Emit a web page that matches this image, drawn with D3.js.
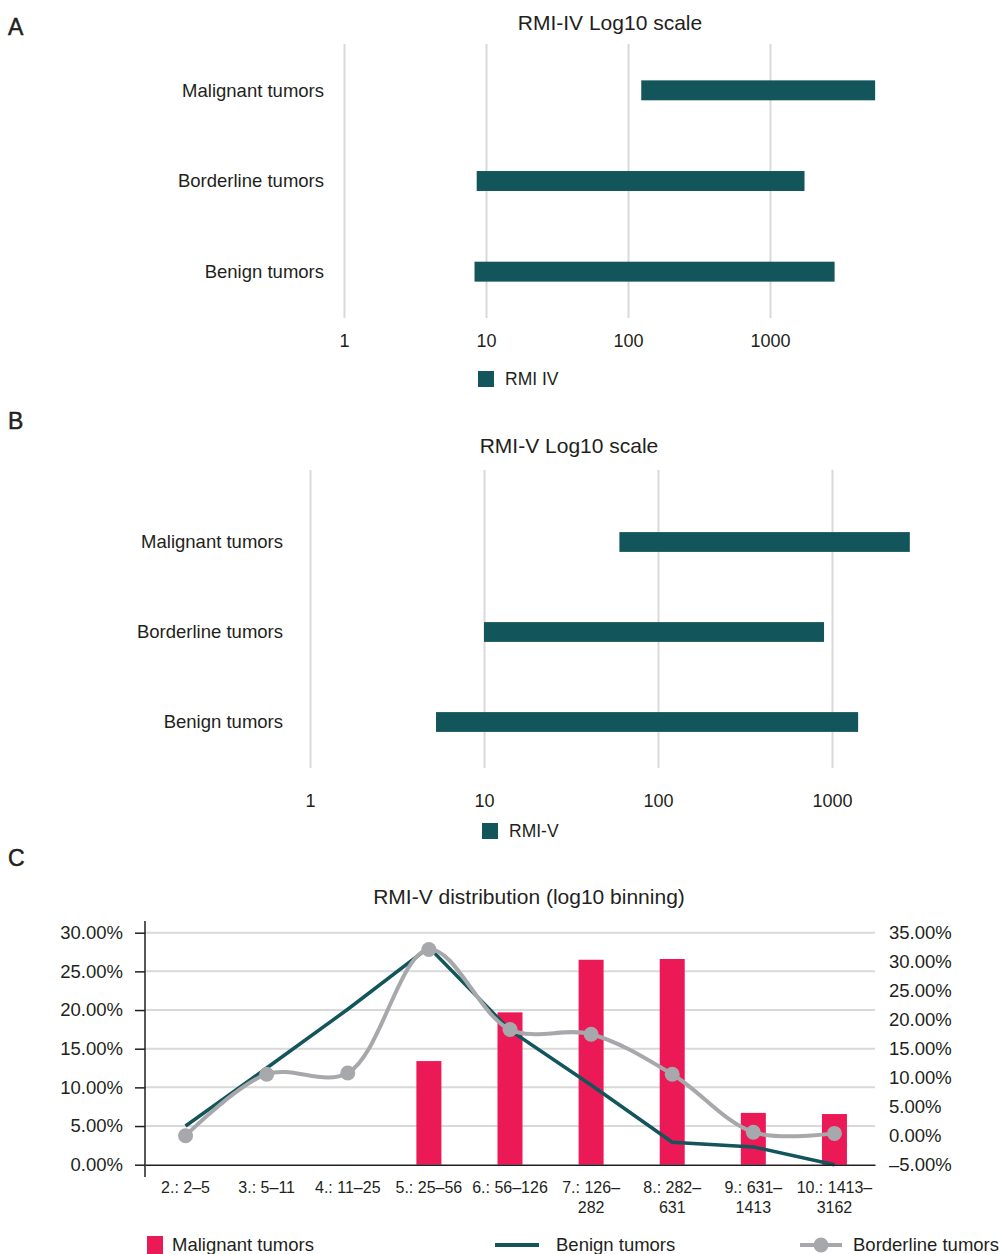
<!DOCTYPE html>
<html>
<head>
<meta charset="utf-8">
<script src="https://cdn.jsdelivr.net/npm/d3@7"></script>
<style>
  body { margin: 0; background: #fff; }
  svg text { font-family: "Liberation Sans", Arial, sans-serif; fill: #231f20; }
</style>
</head>
<body>
<div id="chart"></div>
<script>
// Data
const tumorTypes = ['Malignant tumors', 'Borderline tumors', 'Benign tumors'];
const rmi4Low = [124, 8.6, 8.3];
const rmi4High = [5500, 1750, 2850];
const rmi5Low = [60, 10, 5.3];
const rmi5High = [2800, 900, 1413];
const logTicks = [1, 10, 100, 1000];

const bins = ['2.: 2–5', '3.: 5–11', '4.: 11–25', '5.: 25–56', '6.: 56–126',
    '7.: 126–|282', '8.: 282–|631', '9.: 631–|1413', '10.: 1413–|3162'];
const malignantPct = [0, 0, 0, 13.4, 19.7, 26.5, 26.6, 6.7, 6.55];
const benignPct = [5.0, 12.5, 20.1, 28.1, 17.4, 10.3, 2.9, 2.3, 0];
const borderlinePct = [0, 10.6, 10.8, 32.1, 18.3, 17.5, 10.6, 0.6, 0.4];
const leftTicks = [0, 5, 10, 15, 20, 25, 30];
const rightTicks = [-5, 0, 5, 10, 15, 20, 25, 30, 35];

const teal = '#12555a';
const pink = '#ec1957';
const grey = '#a7a8ab';
const gridColor = '#d9d9d9';

const svg = d3.select('#chart')
    .append('svg')
    .attr('width', 1003)
    .attr('height', 1254);

function panelLetter(letter, y) {
    svg.append('text')
        .attr('x', 8).attr('y', y)
        .attr('dy', '0.35em')
        .style('font-size', '23px')
        .style('stroke', '#231f20')
        .style('stroke-width', 0.5)
        .text(letter);
}

// range panel (A and B)
function rangePanel(opt) {
    const x = d3.scaleLog()
        .domain([1, 10000])
        .range(opt.xRange);
    const y = d3.scaleBand()
        .domain(tumorTypes)
        .range(opt.yRange)
        .paddingInner(0.78)
        .paddingOuter(0.39);

    panelLetter(opt.letter, opt.letterY);

    svg.append('text')
        .attr('x', opt.titleX).attr('y', opt.titleY)
        .attr('dy', '0.35em')
        .attr('text-anchor', 'middle')
        .style('font-size', '21px')
        .text(opt.title);

    const gridBottom = opt.gridY[1];
    const axis = d3.axisBottom(x)
        .tickValues(logTicks)
        .tickFormat(d3.format('d'))
        .tickSize(-(opt.gridY[1] - opt.gridY[0]))
        .tickPadding(opt.labelY - gridBottom - 6);

    const g = svg.append('g')
        .attr('transform', 'translate(0,' + gridBottom + ')')
        .call(axis);
    g.select('.domain').remove();
    g.selectAll('line').attr('stroke', gridColor).attr('stroke-width', 2);
    g.selectAll('text')
        .style('font-size', '18px')
        .attr('fill', '#231f20');

    svg.append('g')
        .selectAll('rect')
        .data(tumorTypes)
        .join('rect')
        .attr('x', (d, i) => x(opt.low[i]))
        .attr('width', (d, i) => x(opt.high[i]) - x(opt.low[i]))
        .attr('y', d => y(d))
        .attr('height', y.bandwidth())
        .attr('fill', teal);

    svg.append('g')
        .selectAll('text')
        .data(tumorTypes)
        .join('text')
        .attr('x', opt.catX)
        .attr('y', d => y(d) + y.bandwidth() / 2)
        .attr('dy', '0.35em')
        .attr('text-anchor', 'end')
        .style('font-size', '18.5px')
        .text(d => d);

    svg.append('rect')
        .attr('x', opt.legendX).attr('y', opt.legendY - 8)
        .attr('width', 16).attr('height', 16)
        .attr('fill', teal);
    svg.append('text')
        .attr('x', opt.legendX + 27).attr('y', opt.legendY)
        .attr('dy', '0.35em')
        .style('font-size', '17.5px')
        .text(opt.legend);
}

rangePanel({
    letter: 'A', letterY: 27,
    title: 'RMI-IV Log10 scale', titleX: 610, titleY: 23,
    xRange: [344, 912], yRange: [45, 317],
    gridY: [44, 318], labelY: 340,
    low: rmi4Low, high: rmi4High,
    catX: 324,
    legend: 'RMI IV', legendX: 478, legendY: 379
});

rangePanel({
    letter: 'B', letterY: 421,
    title: 'RMI-V Log10 scale', titleX: 569, titleY: 446,
    xRange: [310, 1006], yRange: [497, 767],
    gridY: [470, 768], labelY: 800,
    low: rmi5Low, high: rmi5High,
    catX: 283,
    legend: 'RMI-V', legendX: 482, legendY: 831
});

// panel C: distribution
const cLeft = 145, cRight = 875, cTop = 932.7, cBottom = 1164.7;

const xBin = d3.scaleBand()
    .domain(bins)
    .range([cLeft, cRight]);
const yLeft = d3.scaleLinear()
    .domain([0, 30])
    .range([cBottom, cTop]);
const yRight = d3.scaleLinear()
    .domain([-5, 35])
    .range([cBottom, cTop]);

const pct = d => d.toFixed(2).replace('-', '–') + '%';

panelLetter('C', 858);

svg.append('text')
    .attr('x', 529).attr('y', 897)
    .attr('dy', '0.35em')
    .attr('text-anchor', 'middle')
    .style('font-size', '21px')
    .text('RMI-V distribution (log10 binning)');

// grid
svg.append('g')
    .selectAll('line')
    .data(leftTicks.filter(d => d > 0))
    .join('line')
    .attr('x1', cLeft).attr('x2', cRight)
    .attr('y1', d => yLeft(d)).attr('y2', d => yLeft(d))
    .attr('stroke', gridColor)
    .attr('stroke-width', 2);

// malignant bars
const barW = 25;
svg.append('g')
    .selectAll('rect')
    .data(bins)
    .join('rect')
    .attr('x', d => xBin(d) + xBin.bandwidth() / 2 - barW / 2)
    .attr('width', barW)
    .attr('y', (d, i) => yLeft(malignantPct[i]))
    .attr('height', (d, i) => cBottom - yLeft(malignantPct[i]))
    .attr('fill', pink);

// benign line
const benignLine = d3.line()
    .x((d, i) => xBin(bins[i]) + xBin.bandwidth() / 2)
    .y(d => yLeft(d));

svg.append('path')
    .datum(benignPct)
    .attr('fill', 'none')
    .attr('stroke', teal)
    .attr('stroke-width', 3.5)
    .attr('d', benignLine);

// borderline line (smoothed, right axis)
const borderLine = d3.line()
    .x((d, i) => xBin(bins[i]) + xBin.bandwidth() / 2)
    .y(d => yRight(d))
    .curve(d3.curveCatmullRom.alpha(0.5));

svg.append('path')
    .datum(borderlinePct)
    .attr('fill', 'none')
    .attr('stroke', grey)
    .attr('stroke-width', 4)
    .attr('d', borderLine);

svg.append('g')
    .selectAll('circle')
    .data(borderlinePct)
    .join('circle')
    .attr('cx', (d, i) => xBin(bins[i]) + xBin.bandwidth() / 2)
    .attr('cy', d => yRight(d))
    .attr('r', 7.5)
    .attr('fill', grey);

// axes
const leftAxis = d3.axisLeft(yLeft)
    .tickValues(leftTicks)
    .tickFormat(pct)
    .tickSize(10)
    .tickPadding(12)
    .tickSizeOuter(0);
const gl = svg.append('g')
    .attr('transform', 'translate(' + cLeft + ',0)')
    .call(leftAxis);
gl.select('.domain').remove();
gl.selectAll('line').attr('stroke', '#231f20').attr('stroke-width', 1.5);
gl.selectAll('text').style('font-size', '18.5px').attr('fill', '#231f20');

svg.append('line')
    .attr('x1', cLeft).attr('x2', cLeft)
    .attr('y1', 921).attr('y2', 1177)
    .attr('stroke', '#231f20')
    .attr('stroke-width', 1.5);

const rightAxis = d3.axisRight(yRight)
    .tickValues(rightTicks)
    .tickFormat(pct)
    .tickSize(0)
    .tickPadding(14);
const gr = svg.append('g')
    .attr('transform', 'translate(' + cRight + ',0)')
    .call(rightAxis);
gr.select('.domain').remove();
gr.selectAll('text').style('font-size', '18.5px').attr('fill', '#231f20');

const bottomAxis = d3.axisBottom(xBin)
    .tickSize(0)
    .tickSizeOuter(0)
    .tickPadding(23);
const gb = svg.append('g')
    .attr('transform', 'translate(0,' + cBottom + ')')
    .call(bottomAxis);
gb.select('.domain').attr('stroke', '#231f20').attr('stroke-width', 1.5);
gb.selectAll('text')
    .style('font-size', '16px')
    .attr('fill', '#231f20')
    .attr('dy', null)
    .text(null)
    .selectAll('tspan')
    .data(d => d.split('|'))
    .join('tspan')
    .attr('x', 0)
    .attr('dy', (d, i) => i === 0 ? '0.35em' : '1.25em')
    .text(d => d);

// legend
const legendY = 1245;
svg.append('rect')
    .attr('x', 147).attr('y', legendY - 9)
    .attr('width', 16).attr('height', 18)
    .attr('fill', pink);
svg.append('text')
    .attr('x', 172).attr('y', legendY)
    .attr('dy', '0.35em')
    .style('font-size', '18.5px')
    .text('Malignant tumors');

svg.append('line')
    .attr('x1', 495).attr('x2', 539)
    .attr('y1', legendY).attr('y2', legendY)
    .attr('stroke', teal)
    .attr('stroke-width', 4);
svg.append('text')
    .attr('x', 556).attr('y', legendY)
    .attr('dy', '0.35em')
    .style('font-size', '18.5px')
    .text('Benign tumors');

svg.append('line')
    .attr('x1', 800).attr('x2', 842)
    .attr('y1', legendY).attr('y2', legendY)
    .attr('stroke', grey)
    .attr('stroke-width', 4);
svg.append('circle')
    .attr('cx', 821).attr('cy', legendY)
    .attr('r', 7.5)
    .attr('fill', grey);
svg.append('text')
    .attr('x', 853).attr('y', legendY)
    .attr('dy', '0.35em')
    .style('font-size', '18.5px')
    .text('Borderline tumors');
</script>
</body>
</html>
